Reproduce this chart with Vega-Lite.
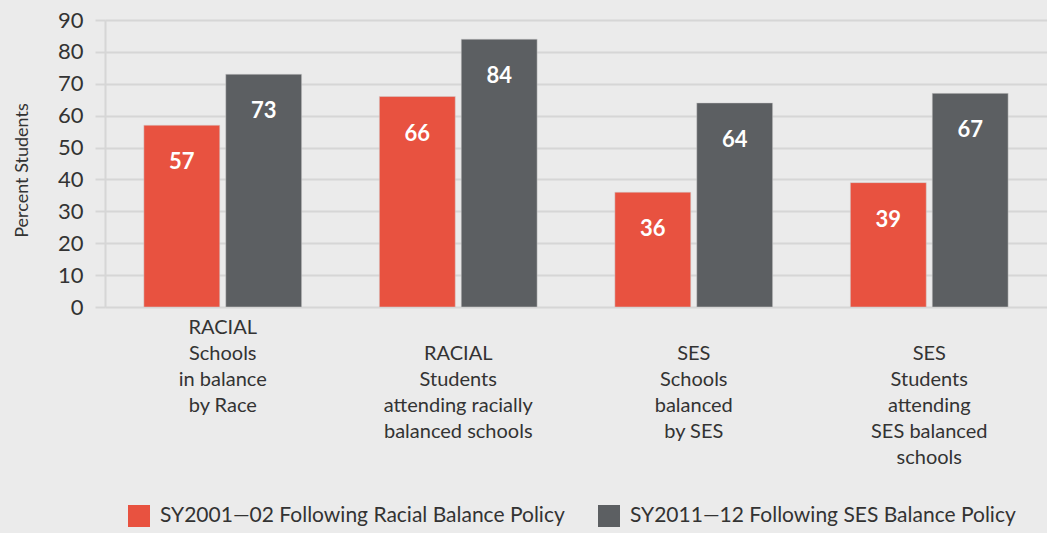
{
  "$schema": "https://vega.github.io/schema/vega-lite/v6.json",
  "autosize": "none",
  "width": 942,
  "height": 287,
  "padding": {"left": 105, "top": 20, "right": 0, "bottom": 226},
  "background": "#ebebeb",
  "config": {
    "view": {"stroke": null},
    "font": "Lato",
    "text": {"font": "Lato"}
  },
  "data": {
    "values": [
      {"cat": "RACIAL|Schools|in balance|by Race", "series": "SY2001\u201402 Following Racial Balance Policy", "value": 57},
      {"cat": "RACIAL|Schools|in balance|by Race", "series": "SY2011\u201412 Following SES Balance Policy", "value": 73},
      {"cat": " |RACIAL|Students|attending racially|balanced schools", "series": "SY2001\u201402 Following Racial Balance Policy", "value": 66},
      {"cat": " |RACIAL|Students|attending racially|balanced schools", "series": "SY2011\u201412 Following SES Balance Policy", "value": 84},
      {"cat": " |SES|Schools|balanced|by SES", "series": "SY2001\u201402 Following Racial Balance Policy", "value": 36},
      {"cat": " |SES|Schools|balanced|by SES", "series": "SY2011\u201412 Following SES Balance Policy", "value": 64},
      {"cat": " |SES|Students|attending|SES balanced|schools", "series": "SY2001\u201402 Following Racial Balance Policy", "value": 39},
      {"cat": " |SES|Students|attending|SES balanced|schools", "series": "SY2011\u201412 Following SES Balance Policy", "value": 67}
    ]
  },
  "encoding": {
    "x": {
      "field": "cat",
      "type": "nominal",
      "sort": null,
      "scale": {"paddingInner": 0.33, "paddingOuter": 0.165},
      "axis": {
        "title": null,
        "domain": false,
        "ticks": false,
        "labelAngle": 0,
        "labelExpr": "split(datum.label, '|')",
        "labelFontSize": 20,
        "labelColor": "#333333",
        "labelPadding": 10,
        "labelBaseline": "top",
        "labelLineHeight": 26,
        "labelAlign": "center"
      }
    },
    "xOffset": {
      "field": "series",
      "type": "nominal",
      "scale": {"paddingInner": 0.073}
    },
    "y": {
      "field": "value",
      "type": "quantitative",
      "scale": {"domain": [0, 90], "nice": false},
      "axis": {
        "title": "Percent Students",
        "titleFontSize": 18,
        "titleFontWeight": "normal",
        "titleColor": "#333333",
        "titlePadding": 26,
        "titleY": 150,
        "values": [0, 10, 20, 30, 40, 50, 60, 70, 80, 90],
        "labelFontSize": 22,
        "labelColor": "#333333",
        "labelPadding": 12,
        "tickSize": 10,
        "tickColor": "#d6d6d6",
        "tickWidth": 2,
        "domainColor": "#d6d6d6",
        "domainWidth": 2,
        "gridColor": "#d6d6d6",
        "gridWidth": 2
      }
    }
  },
  "layer": [
    {
      "mark": {"type": "bar", "stroke": "#d0d0d0", "strokeWidth": 0.5},
      "encoding": {
        "color": {
          "field": "series",
          "type": "nominal",
          "scale": {"range": ["#e85240", "#5c5f62"]},
          "legend": {
            "title": null,
            "orient": "none",
            "legendX": 23,
            "legendY": 485,
            "direction": "horizontal",
            "columns": 2,
            "columnPadding": 33,
            "symbolType": "square",
            "symbolSize": 484,
            "symbolStrokeWidth": 0,
            "labelFontSize": 21,
            "labelColor": "#333333",
            "labelOffset": 10,
            "labelLimit": 0
          }
        }
      }
    },
    {
      "mark": {"type": "text", "color": "white", "fontSize": 22, "fontWeight": "bold", "baseline": "middle", "dy": 37},
      "encoding": {
        "text": {"field": "value", "type": "quantitative"}
      }
    }
  ]
}
